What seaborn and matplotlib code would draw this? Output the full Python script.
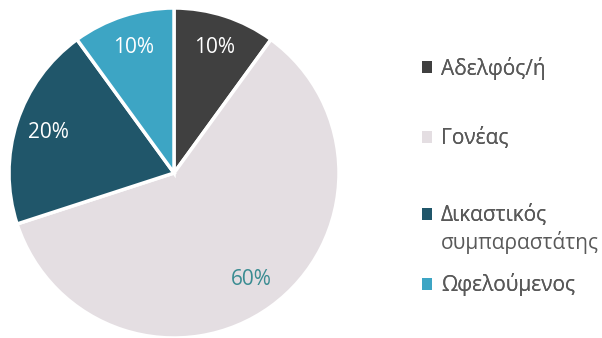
import matplotlib.pyplot as plt
import seaborn as sns
from matplotlib.patches import Patch

# data
categories = ['Αδελφός/ή', 'Γονέας', 'Δικαστικός\nσυμπαραστάτης', 'Ωφελούμενος']
shares = [10, 60, 20, 10]
colors = ['#404040', '#E4DEE2', '#20566A', '#3DA5C4']
label_colors = ['white', '#3A8C92', 'white', 'white']

sns.set_theme(style='white')
plt.rcParams['font.family'] = ['Open Sans', 'DejaVu Sans']

fig = plt.figure(figsize=(6.02, 3.38), dpi=100)
ax = fig.add_axes([9 / 602, 0 / 338, 330 / 602, 330 / 338])

wedges, texts, autotexts = ax.pie(
    shares, colors=colors, startangle=90, counterclock=False,
    autopct='%1.0f%%', pctdistance=0.8,
    wedgeprops={'edgecolor': 'white', 'linewidth': 2.5},
    textprops={'fontsize': 15})
for t, c in zip(autotexts, label_colors):
    t.set_color(c)
ax.set_xlim(-1, 1)
ax.set_ylim(-1, 1)
ax.set_aspect('equal')

# legend entries placed one by one (uneven spacing like the original);
# marker sits beside the first line of a wrapped label
y_pos = [68, 138, 215, 285]
line_gap = 28
for i, (lab, col) in enumerate(zip(categories, colors)):
    lines = lab.split('\n')
    leg = fig.legend(handles=[Patch(facecolor=col, edgecolor='none')], labels=[lines[0]],
                     loc='center left', bbox_to_anchor=(422 / 602, 1 - y_pos[i] / 338),
                     frameon=False, fontsize=15, handlelength=0.5, handleheight=0.5,
                     handletextpad=0.4, borderpad=0, borderaxespad=0,
                     labelcolor='#595959')
    fig.add_artist(leg)
    if len(lines) > 1:
        fig.canvas.draw()
        bb = leg.get_texts()[0].get_window_extent(fig.canvas.get_renderer())
        for k, extra in enumerate(lines[1:], start=1):
            fig.text(bb.x0 / fig.bbox.width, 1 - (y_pos[i] + k * line_gap) / 338, extra,
                     fontsize=15, color='#595959', ha='left', va='center')

plt.savefig('out.png', dpi=100)
